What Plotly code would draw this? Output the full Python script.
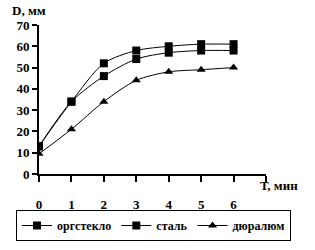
import plotly.graph_objects as go

t = [0, 1, 2, 3, 4, 5, 6]
orgsteklo = [13, 34, 52, 58, 60, 61, 61]
stal = [13, 34, 46, 54, 57, 58, 58]
duralum = [9.5, 21, 34, 44, 48, 49, 50]
names = ["оргстекло", "сталь", "дюралюм"]
xticks = [0, 1, 2, 3, 4, 5, 6, 7]
xticktext = ["0", "1", "2", "3", "4", "5", "6", ""]

FONT = "Liberation Serif"
L, R, T, B = 39, 49, 25, 76
pw, ph = 315 - L - R, 250 - T - B

fig = go.Figure()
for y, name, sym in [(orgsteklo, names[0], "square"), (stal, names[1], "square"), (duralum, names[2], "triangle-up")]:
    fig.add_trace(go.Scatter(
        x=t, y=y, name=name, mode="lines+markers",
        line=dict(color="black", width=1, shape="spline", smoothing=0.8),
        marker=dict(symbol=sym, size=8, color="black"),
    ))

fig.update_layout(
    width=315, height=250,
    margin=dict(l=L, r=R, t=T, b=B, autoexpand=False),
    plot_bgcolor="white", paper_bgcolor="white",
    font=dict(family=FONT, size=13, color="black"),
    showlegend=True,
    legend=dict(
        orientation="h",
        x=(291 - L) / pw, xanchor="right", y=(250 - B - 210) / ph, yanchor="top",
        bordercolor="black", borderwidth=1,
        font=dict(family=FONT, size=12, color="black", weight="bold"),
        itemwidth=30, tracegroupgap=0,
    ),
    xaxis=dict(
        range=[0, 7], tickvals=xticks, ticktext=xticktext, tickangle=0,
        showgrid=False, zeroline=False, showline=True, linecolor="black", linewidth=2,
        ticks="outside", ticklen=6, tickwidth=2, tickcolor="black",
        ticklabelstandoff=11,
        tickfont=dict(family=FONT, size=13, color="black", weight="bold"),
    ),
    yaxis=dict(
        range=[0, 70], dtick=10,
        showgrid=False, zeroline=False, showline=True, linecolor="black", linewidth=2,
        ticks="outside", ticklen=5, tickwidth=2, tickcolor="black",
        tickfont=dict(family=FONT, size=13, color="black", weight="bold"),
    ),
    annotations=[
        dict(text="D, мм", x=(10 - L) / pw, y=(250 - B - 11) / ph, xref="paper", yref="paper",
             showarrow=False, font=dict(family=FONT, size=13, color="black", weight="bold"),
             xanchor="left", yanchor="middle"),
        dict(text="Т, мин", x=(258 - L) / pw, y=(250 - B - 186) / ph, xref="paper", yref="paper",
             showarrow=False, font=dict(family=FONT, size=13, color="black", weight="bold"),
             xanchor="left", yanchor="middle"),
    ],
)
fig.write_html("out.html")
